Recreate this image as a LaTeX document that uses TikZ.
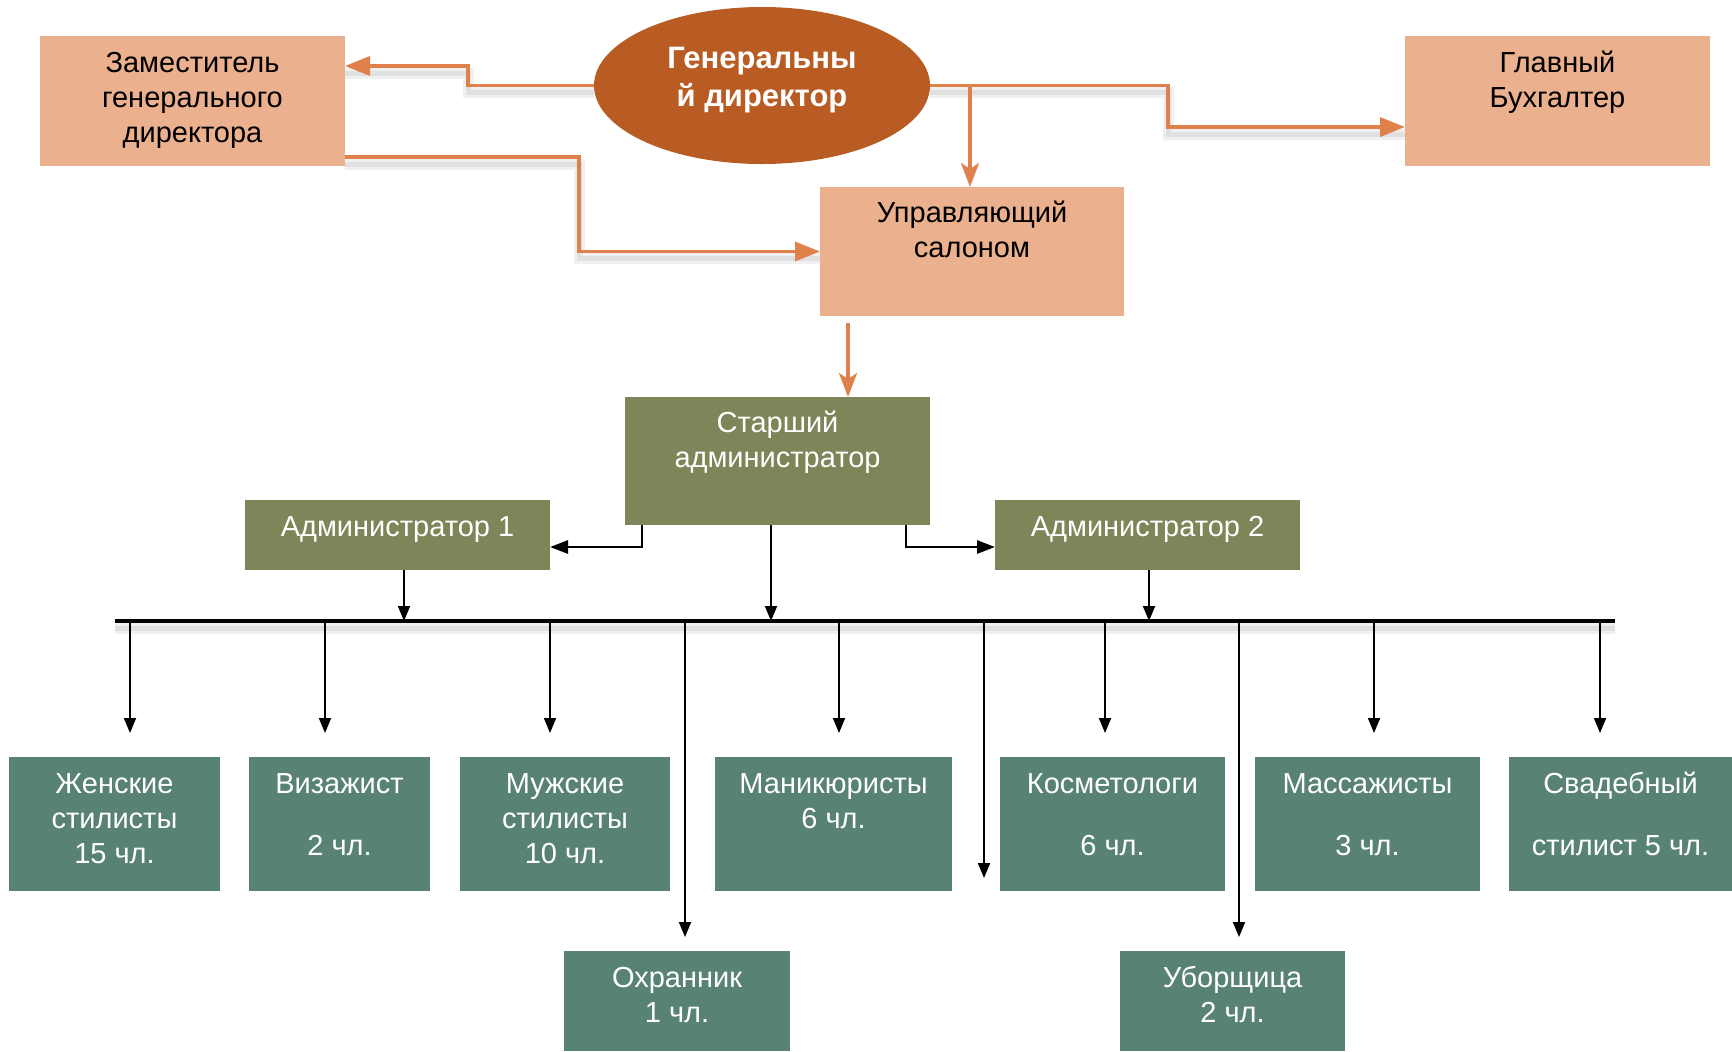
\documentclass[tikz,border=0pt]{standalone}
\usepackage{fontspec}
\setmainfont{Liberation Sans}
\usetikzlibrary{arrows.meta,shapes.geometric,calc}
\definecolor{peach}{HTML}{EBB08E}
\definecolor{rust}{HTML}{B85C24}
\definecolor{orln}{HTML}{E0804A}
\definecolor{olivebx}{HTML}{7F8558}
\definecolor{tealbx}{HTML}{588276}
\newcommand\bxt[4]{\parbox[c][#2][t]{#1}{\centering\vspace*{#3}\rule{0pt}{12pt}#4\par}}
\begin{document}
\begin{tikzpicture}[x=0.5pt,y=-0.5pt,
  box/.style={inner sep=0pt, outer sep=0pt, font=\fontsize{14.5pt}{17.5pt}\selectfont},
  pch/.style={box, fill=peach, text=black},
  olv/.style={box, fill=olivebx, text=white},
  tlb/.style={box, fill=tealbx, text=white},
  softshadow/.style={
     preaction={draw=black!6, -, line width=5.5pt, transform canvas={yshift=-3.5pt}},
     preaction={draw=black!12, -, line width=2.5pt, transform canvas={yshift=-3.5pt}}},
  oarr/.style={softshadow, draw=orln, line width=1.7pt, -{Triangle[length=12.5pt,width=9.5pt]}},
  oarrs/.style={draw=orln, line width=1.6pt, -{Stealth[length=12pt,width=9pt,inset=3pt]}},
  barr/.style={draw=black, line width=1.4pt, -{Triangle[length=9pt,width=6.5pt]}},
  varr/.style={draw=black, line width=0.9pt, -{Triangle[length=7.5pt,width=6pt]}},
  busln/.style={softshadow, draw=black, line width=2.2pt}
]
\useasboundingbox (0,0) rectangle (1732,1051);

% top level
\node[ellipse, fill=rust, inner sep=0pt, minimum width=168pt, minimum height=78.5pt,
      text=white, font=\bfseries\fontsize{15.5pt}{19pt}\selectfont] (gen) at (762,85.5)
  {\raisebox{3pt}[\height][\depth]{\begin{tabular}{@{}c@{}}Генеральны\\й директор\end{tabular}}};
\node[pch] (zam) at (192.5,101) {\bxt{152.5pt}{65pt}{6pt}{Заместитель\\генерального\\директора}};
\node[pch] (glav) at (1557.5,101) {\bxt{152.5pt}{65pt}{6pt}{Главный\\Бухгалтер}};
\node[pch] (upr) at (972,251.5) {\bxt{152pt}{64.5pt}{5.5pt}{Управляющий\\салоном}};

% admin level
\node[olv] (star) at (777.5,461) {\bxt{152.5pt}{64pt}{5.5pt}{Старший\\администратор}};
\node[olv] (a1) at (397.5,535) {\bxt{152.5pt}{35pt}{6.3pt}{Администратор 1}};
\node[olv] (a2) at (1147.5,535) {\bxt{152.5pt}{35pt}{6.3pt}{Администратор 2}};

% staff
\node[tlb] (zh)   at (114.5,824)  {\bxt{105.5pt}{67pt}{6pt}{Женские\\стилисты\\15 чл.}};
\node[tlb] (viz)  at (339.5,824)  {\bxt{90.5pt}{67pt}{6pt}{Визажист\\[13.5pt]2 чл.}};
\node[tlb] (muzh) at (565,824)    {\bxt{105pt}{67pt}{6pt}{Мужские\\стилисты\\10 чл.}};
\node[tlb] (man)  at (833.5,824)  {\bxt{118.5pt}{67pt}{6pt}{Маникюристы\\6 чл.}};
\node[tlb] (kosm) at (1112.5,824) {\bxt{112.5pt}{67pt}{6pt}{Косметологи\\[13.5pt]6 чл.}};
\node[tlb] (mass) at (1367.5,824) {\bxt{112.5pt}{67pt}{6pt}{Массажисты\\[13.5pt]3 чл.}};
\node[tlb] (svad) at (1620.5,824) {\bxt{111.5pt}{67pt}{6pt}{Свадебный\\[13.5pt]стилист 5 чл.}};
\node[tlb] (okh)  at (677,1001)   {\bxt{113pt}{50pt}{6pt}{Охранник\\1 чл.}};
\node[tlb] (ub)   at (1232.5,1001){\bxt{112.5pt}{50pt}{6pt}{Уборщица\\2 чл.}};

% orange connectors
\coordinate (e1) at (468,85.5);  \coordinate (e2) at (468,66);
\draw[oarr] (gen.west) -- (e1) -- (e2) -- (e2 -| zam.east);
\coordinate (e3) at (1168,85.5); \coordinate (e4) at (1168,127);
\draw[oarr] (gen.east) -- (e3) -- (e4) -- (e4 -| glav.west);
\coordinate (e5) at (970,85.5);
\draw[oarrs] (e5) -- (e5 |- upr.north);
\coordinate (z1) at (345,157); \coordinate (z2) at (579,157); \coordinate (z3) at (579,251.5);
\draw[oarr] (z1 -| zam.east) -- (z2) -- (z3) -- (upr.west);
\coordinate (u1) at (848,323);
\draw[oarrs] (u1) -- (u1 |- star.north);

% black connectors
\coordinate (s1) at (642,547); \coordinate (s2) at (906,547);
\draw[barr] (star.south -| s1) -- (s1) -- (s1 -| a1.east);
\draw[barr] (star.south -| s2) -- (s2) -- (s2 -| a2.west);

\coordinate (busL) at (115,621); \coordinate (busR) at (1615,621);
\draw[busln] (busL) -- (busR);
\coordinate (k1) at (404,621); \coordinate (k2) at (771,621); \coordinate (k3) at (1149,621);
\draw[varr] (k1 |- a1.south) -- (k1);
\draw[varr] (k2 |- star.south) -- (k2);
\draw[varr] (k3 |- a2.south) -- (k3);

\coordinate (d1) at (130,621);  \coordinate (d2) at (325,621);
\coordinate (d3) at (550,621);  \coordinate (d4) at (685,621);
\coordinate (d5) at (839,621);  \coordinate (d6) at (984,621);
\coordinate (d7) at (1105,621); \coordinate (d8) at (1239,621);
\coordinate (d9) at (1374,621); \coordinate (d10) at (1600,621);
\draw[varr] (d1) -- ++(0,112);
\draw[varr] (d2) -- ++(0,112);
\draw[varr] (d3) -- ++(0,112);
\draw[varr] (d4) -- ($(d4 |- okh.north)+(0,-14)$);
\draw[varr] (d5) -- ++(0,112);
\draw[varr] (d6) -- ++(0,257);
\draw[varr] (d7) -- ++(0,112);
\draw[varr] (d8) -- ($(d8 |- ub.north)+(0,-14)$);
\draw[varr] (d9) -- ++(0,112);
\draw[varr] (d10) -- ++(0,112);
\end{tikzpicture}
\end{document}
